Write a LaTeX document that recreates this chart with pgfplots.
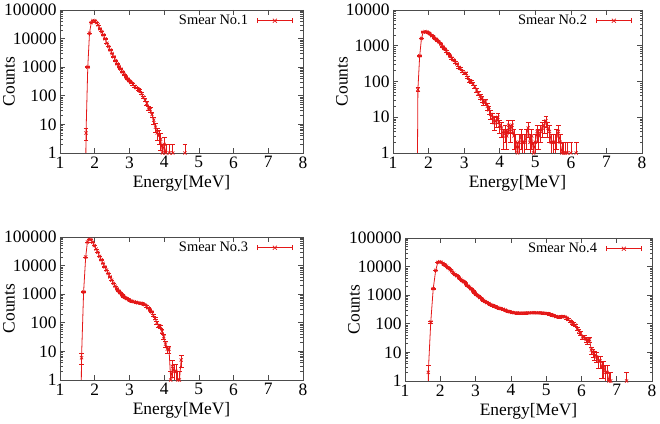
\documentclass[border=0pt]{standalone}
\usepackage{pgfplots}
\usepackage{pgfplotstable}
\pgfplotsset{compat=1.18}
\usepackage{fontspec}
\setmainfont{Liberation Serif}
\definecolor{gp}{RGB}{228,24,24}

\pgfplotstableread{
E N
1.70 1e-6
1.75 5
1.80 1000
1.85 15500
1.90 36000
1.95 43000
2.00 42000
2.05 36000
2.10 30000
2.15 22000
2.20 17500
2.25 13500
2.30 9800
2.35 6900
2.40 5300
2.45 4000
2.50 3000
2.55 2300
2.60 1700
2.65 1300
2.70 1050
2.75 860
2.80 680
2.85 560
2.90 460
2.95 390
3.00 330
3.05 290
3.10 250
3.15 215
3.20 190
3.25 170
3.30 150
3.35 120
3.40 90
3.45 70
3.50 55
3.55 38
3.60 33
3.65 22
3.70 14
3.75 8
3.80 5
3.85 4
3.90 3
3.95 1
4.00 2
4.05 1
4.10 nan
4.15 1
4.20 nan
4.25 1
4.30 nan
4.60 1
}\dataA

\pgfplotstableread{
E N
1.65 1e-6
1.70 60
1.75 520
1.80 1600
1.85 2400
1.90 2500
1.95 2450
2.00 2300
2.05 2100
2.10 1900
2.15 1700
2.20 1550
2.25 1400
2.30 1250
2.35 1100
2.40 950
2.45 820
2.50 700
2.55 600
2.60 520
2.65 450
2.70 400
2.75 340
2.80 310
2.85 250
2.90 230
2.95 190
3.00 170
3.05 170
3.10 130
3.15 105
3.20 100
3.25 85
3.30 72
3.35 58
3.40 47
3.45 38
3.50 32
3.55 26
3.60 27
3.65 20
3.70 16
3.75 12
3.80 10
3.85 7
3.90 8
3.95 10
4.00 6
4.05 5
4.10 3
4.15 4
4.20 3
4.25 6
4.30 4
4.35 6
4.40 3
4.45 2
4.50 1
4.55 2
4.60 3
4.65 2
4.70 2
4.75 3
4.80 5
4.85 2
4.90 3
4.95 1
5.00 2
5.05 4
5.10 3
5.15 4
5.20 5
5.25 6
5.30 8
5.35 5
5.40 4
5.45 2
5.50 2
5.55 2
5.60 3
5.65 4
5.70 2
5.75 1
5.80 1
5.85 1
5.90 1
5.95 nan
6.00 1
6.05 nan
6.15 1
}\dataB

\pgfplotstableread{
E N
1.57 1e-6
1.62 6
1.68 1200
1.74 20000
1.79 67000
1.84 83000
1.89 82000
1.94 66000
1.99 50000
2.04 38000
2.09 29000
2.14 21000
2.19 16000
2.24 12000
2.29 9000
2.34 7000
2.39 5300
2.44 4000
2.49 3100
2.54 2400
2.59 1900
2.64 1550
2.69 1300
2.74 1100
2.79 950
2.84 830
2.89 750
2.94 690
2.99 630
3.04 590
3.09 560
3.14 540
3.19 520
3.24 500
3.29 490
3.34 480
3.39 460
3.44 430
3.49 380
3.54 330
3.59 280
3.64 240
3.69 180
3.74 140
3.79 100
3.84 80
3.89 75
3.94 50
3.99 33
4.04 18
4.09 12
4.14 12
4.19 1
4.24 3
4.29 2
4.34 2
4.39 1
4.44 1
4.49 5
}\dataC

\pgfplotstableread{
E N
1.62 1e-6
1.66 2
1.73 115
1.80 1700
1.87 7400
1.93 14000
1.98 14800
2.03 14200
2.08 12800
2.13 11500
2.18 10300
2.23 9000
2.28 7800
2.33 6800
2.38 5900
2.43 5200
2.48 4700
2.53 4100
2.58 3600
2.63 3200
2.68 2900
2.73 2500
2.78 2150
2.83 1900
2.88 1650
2.93 1400
2.98 1200
3.03 1050
3.08 920
3.13 820
3.18 720
3.23 650
3.28 590
3.33 545
3.38 510
3.43 470
3.48 440
3.53 410
3.58 390
3.63 370
3.68 350
3.73 335
3.78 322
3.83 305
3.88 285
3.93 270
3.98 260
4.03 250
4.08 245
4.13 240
4.18 238
4.23 236
4.28 234
4.33 235
4.38 237
4.43 238
4.48 240
4.53 242
4.58 245
4.63 245
4.68 244
4.73 243
4.78 242
4.83 240
4.88 240
4.93 235
4.98 232
5.03 228
5.08 220
5.13 210
5.18 200
5.23 190
5.28 180
5.33 175
5.38 172
5.43 178
5.48 180
5.53 175
5.58 160
5.63 140
5.68 125
5.73 110
5.78 100
5.83 90
5.88 65
5.93 55
5.98 47
6.03 35
6.08 35
6.13 28
6.18 24
6.23 28
6.28 12
6.33 10
6.38 8
6.43 7
6.48 5
6.53 5
6.58 3
6.63 3
6.68 2
6.73 2
6.78 1
6.83 1
6.88 nan
7.28 1
}\dataD

\pgfplotsset{
  every axis/.append style={
    scale only axis,
    xmin=1, xmax=8,
    ymin=1,
    xtick={1,2,3,4,5,6,7,8},
    /pgf/number format/assume math mode=true,
    axis line style={black!70, line width=0.7bp},
    tick style={black!70, line width=0.6bp},
    tick align=inside,
    major tick length=5bp,
    minor tick length=2.5bp,
    tick label style={font=\fontsize{17.5}{19}\selectfont},
    label style={font=\fontsize{17.5}{19}\selectfont},
    xlabel={Energy[MeV]},
    ylabel={Counts},
    xlabel style={at={(axis description cs:0.5,0)}, anchor=center, yshift=-30bp},
    ylabel style={at={(axis description cs:0,0.5)}, anchor=center, yshift=51bp},
    unbounded coords=jump,
    clip mode=global,
    legend style={draw=none, fill=none, at={(rel axis cs:1,1)}, anchor=north east,
      xshift=-9bp, yshift=-2bp, font=\fontsize{14.5}{16}\selectfont,
      inner sep=1bp, column sep=7bp},
    legend cell align=right,
    legend plot pos=right,
    legend image code/.code={
      \draw[gp, line width=0.8bp] (0bp,0bp) -- (35bp,0bp);
      \draw[gp, line width=0.7bp] (0bp,-2.5bp) -- (0bp,2.5bp) (35bp,-2.5bp) -- (35bp,2.5bp);
      \draw[gp, line width=0.7bp] (15.5bp,-2bp) -- (19.5bp,2bp) (15.5bp,2bp) -- (19.5bp,-2bp);
    },
  },
}

\begin{document}
\begin{tikzpicture}
\path[use as bounding box] (0bp,0bp) rectangle (660bp,424bp);

\begin{semilogyaxis}[anchor=south west, at={(60bp,271bp)}, width=243bp, height=143bp,
  ymax=100000, ytick={1,10,100,1000,10000,100000},
  yticklabels={1,10,100,1000,10000,100000}]
\addplot[gp, line width=0.8bp, mark=x, mark size=2.2bp, mark options={solid, line width=0.7bp},
  error bars/y dir=both, error bars/y explicit,
  error bars/error mark options={gp, mark size=2.4bp, line width=0.7bp, rotate=90},
  error bars/error bar style={gp, line width=0.7bp}]
  table[x=E, y=N, y error plus expr={sqrt(\thisrow{N})}, y error minus expr={min(sqrt(\thisrow{N}),0.9*\thisrow{N})}] {\dataA};
\addlegendentry{Smear No.1}
\end{semilogyaxis}

\begin{semilogyaxis}[anchor=south west, at={(393bp,271bp)}, width=249bp, height=143bp,
  ymax=10000, ytick={1,10,100,1000,10000},
  yticklabels={1,10,100,1000,10000}]
\addplot[gp, line width=0.8bp, mark=x, mark size=2.2bp, mark options={solid, line width=0.7bp},
  error bars/y dir=both, error bars/y explicit,
  error bars/error mark options={gp, mark size=2.4bp, line width=0.7bp, rotate=90},
  error bars/error bar style={gp, line width=0.7bp}]
  table[x=E, y=N, y error plus expr={sqrt(\thisrow{N})}, y error minus expr={min(sqrt(\thisrow{N}),0.9*\thisrow{N})}] {\dataB};
\addlegendentry{Smear No.2}
\end{semilogyaxis}

\begin{semilogyaxis}[anchor=south west, at={(60bp,44bp)}, width=243bp, height=143bp,
  ymax=100000, ytick={1,10,100,1000,10000,100000},
  yticklabels={1,10,100,1000,10000,100000}]
\addplot[gp, line width=0.8bp, mark=x, mark size=2.2bp, mark options={solid, line width=0.7bp},
  error bars/y dir=both, error bars/y explicit,
  error bars/error mark options={gp, mark size=2.4bp, line width=0.7bp, rotate=90},
  error bars/error bar style={gp, line width=0.7bp}]
  table[x=E, y=N, y error plus expr={sqrt(\thisrow{N})}, y error minus expr={min(sqrt(\thisrow{N}),0.9*\thisrow{N})}] {\dataC};
\addlegendentry{Smear No.3}
\end{semilogyaxis}

\begin{semilogyaxis}[anchor=south west, at={(405bp,43bp)}, width=247bp, height=143bp,
  ymax=100000, ytick={1,10,100,1000,10000,100000},
  yticklabels={1,10,100,1000,10000,100000}]
\addplot[gp, line width=0.8bp, mark=x, mark size=2.2bp, mark options={solid, line width=0.7bp},
  error bars/y dir=both, error bars/y explicit,
  error bars/error mark options={gp, mark size=2.4bp, line width=0.7bp, rotate=90},
  error bars/error bar style={gp, line width=0.7bp}]
  table[x=E, y=N, y error plus expr={sqrt(\thisrow{N})}, y error minus expr={min(sqrt(\thisrow{N}),0.9*\thisrow{N})}] {\dataD};
\addlegendentry{Smear No.4}
\end{semilogyaxis}
\end{tikzpicture}
\end{document}
